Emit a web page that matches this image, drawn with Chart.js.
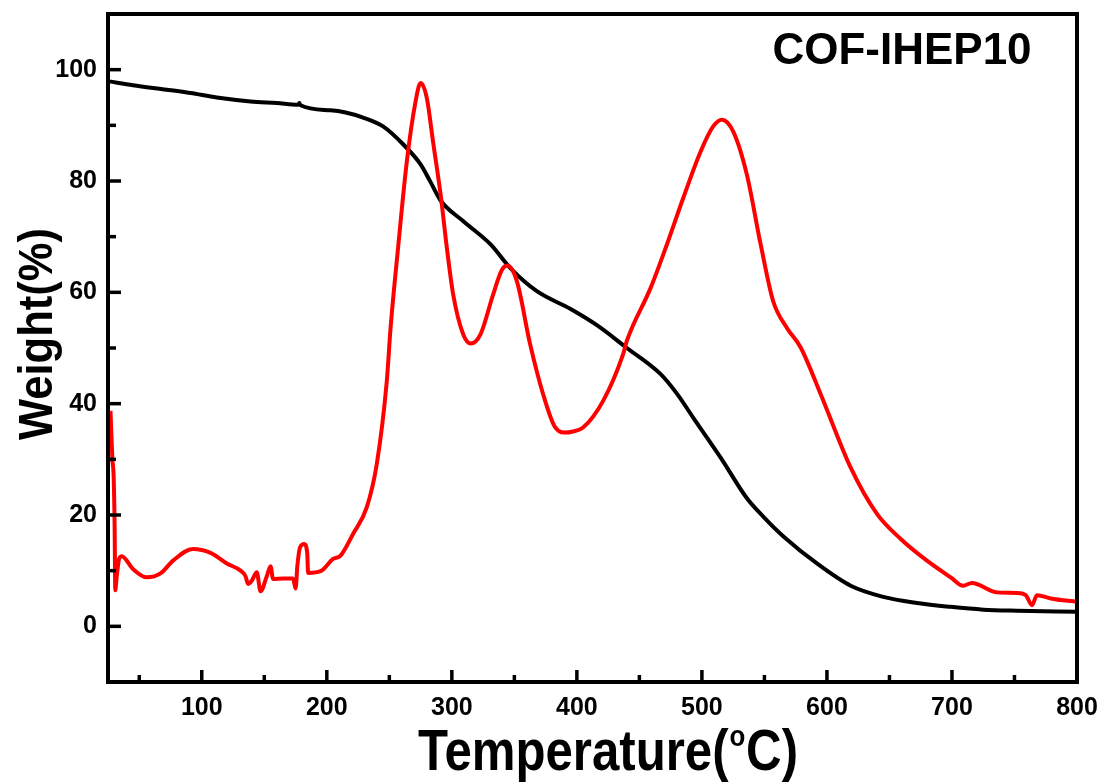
<!DOCTYPE html>
<html lang="en">
<head>
    <meta charset="UTF-8">
    <title>COF-IHEP10 TGA</title>
    <script src="https://cdn.jsdelivr.net/npm/chart.js@4.4.0/dist/chart.umd.min.js"></script>
    <style>
        html, body { margin: 0; padding: 0; background: #fff; }
        #wrap { width: 1103px; height: 783px; }
    </style>
</head>
<body>
    <div id="wrap"><canvas id="tga"></canvas></div>
<script>
    // TGA weight curve (black)
    const tgaTemp = [26, 45, 72, 91, 112, 139, 160, 177, 178, 179, 203, 215, 229, 245, 261, 275, 283, 291, 309, 331, 347,
        368, 395, 416, 440, 467, 480, 493, 515, 536, 550, 565, 592, 619, 645, 672, 699, 725, 752, 800];
    const tgaWeight = [97.9, 97.2, 96.4, 95.8, 95.0, 94.3, 94.0, 93.7, 94.0, 93.6, 92.7, 92.3, 91.4, 89.8, 86.6, 83.0, 79.8, 76.5, 72.8, 68.6, 64.3,
        60.2, 57.0, 54.1, 50.0, 45.3, 41.8, 37.5, 30.3, 23.0, 19.5, 16.2, 11.3, 7.3, 5.3, 4.2, 3.5, 3.0, 2.8, 2.6];

    // DTG curve (red), same y scale
    const dtgTemp = [27, 28.5, 29.5, 30.3, 30.8, 32, 34, 36, 45, 56, 67, 77, 93, 107, 120, 131, 135, 137, 140, 144,
        147, 152, 155, 157, 165, 173, 175, 176.5, 178.6, 182, 184.4, 185, 195, 205, 211, 221, 232, 240, 248, 251,
        257, 264, 271, 275, 280, 285, 291, 296, 301, 309, 315, 323, 333, 340, 344.5, 352, 362.6, 373, 382, 390,
        397, 405, 421, 437, 440, 459, 472, 485, 499, 509, 516, 525, 536, 547, 557, 568, 579, 595, 619, 640,
        659, 680, 699, 709, 716, 736, 752, 759, 764, 768, 779, 800];
    const dtgValue = [38.7, 30, 27, 18, 6.5, 9, 12.2, 12.6, 10.3, 8.8, 9.5, 11.8, 13.9, 13.2, 11.3, 10.0, 9.0, 7.6, 8.2, 9.7,
        6.3, 9.0, 10.8, 8.5, 8.6, 8.6, 6.8, 11, 14.2, 14.8, 13.0, 9.6, 9.9, 12.1, 12.7, 16.6, 21.4, 29.2, 44.1, 53.6,
        68, 83.5, 94.3, 97.6, 94.9, 87, 77.6, 68, 59.7, 52.5, 50.8, 52.5, 59.6, 64, 64.8, 62, 50.7, 41.7, 36, 34.8,
        35, 35.7, 40.5, 48.9, 51.3, 60.8, 68.6, 76.9, 85.3, 89.8, 91.0, 88.9, 81.1, 68.6, 58.4, 53.6, 50.1, 41.7, 28.5, 20.2,
        15.7, 11.8, 8.8, 7.3, 7.8, 6.1, 6.0, 5.6, 3.8, 5.6, 5.0, 4.4];

    const xTicks = [100, 200, 300, 400, 500, 600, 700, 800];
    const xMinor = [50, 150, 250, 350, 450, 550, 650, 750];
    const yTicks = [0, 20, 40, 60, 80, 100];
    const yMinor = [-10, 10, 30, 50, 70, 90];

    const sampleName = 'COF-IHEP10';
    const yTitle = 'Weight(%)';
    const xTitle = ['Temperature(', 'o', 'C)'];   // middle part is the raised degree "o"

    function pts(xs, ys) {
        return xs.map((x, i) => ({ x: x, y: ys[i] }));
    }

    const titleFont = '"Liberation Sans", Arial, sans-serif';

    // frame box, inward ticks, axis titles (condensed like the original) and the sample label
    const framePlugin = {
        id: 'frame',
        afterDraw(chart) {
            const ctx = chart.ctx;
            const a = chart.chartArea;
            const xs = chart.scales.x, ys = chart.scales.y;
            ctx.save();
            ctx.strokeStyle = '#000';
            ctx.lineWidth = 3.5;
            xTicks.forEach(v => {
                const p = xs.getPixelForValue(v);
                ctx.beginPath(); ctx.moveTo(p, a.bottom); ctx.lineTo(p, a.bottom - 12); ctx.stroke();
            });
            xMinor.forEach(v => {
                const p = xs.getPixelForValue(v);
                ctx.beginPath(); ctx.moveTo(p, a.bottom); ctx.lineTo(p, a.bottom - 7); ctx.stroke();
            });
            yTicks.forEach(v => {
                const p = ys.getPixelForValue(v);
                ctx.beginPath(); ctx.moveTo(a.left, p); ctx.lineTo(a.left + 13, p); ctx.stroke();
            });
            yMinor.forEach(v => {
                const p = ys.getPixelForValue(v);
                ctx.beginPath(); ctx.moveTo(a.left, p); ctx.lineTo(a.left + 8, p); ctx.stroke();
            });
            ctx.lineWidth = 4;
            ctx.strokeRect(a.left, a.top, a.right - a.left, a.bottom - a.top);

            ctx.fillStyle = '#000';
            ctx.font = 'bold 44px ' + titleFont;
            ctx.textAlign = 'center';
            ctx.textBaseline = 'middle';
            ctx.fillText(sampleName, 902, 52);

            // x title: Temperature(°C) with raised small o, squeezed to the original width
            const big = 'bold 57px ' + titleFont, small = 'bold 30px ' + titleFont;
            ctx.textAlign = 'left';
            ctx.textBaseline = 'alphabetic';
            ctx.font = big;
            const w0 = ctx.measureText(xTitle[0]).width, w2 = ctx.measureText(xTitle[2]).width;
            ctx.font = small;
            const w1 = ctx.measureText(xTitle[1]).width + 2;
            const total = w0 + w1 + w2;
            const sx = 380 / total;
            ctx.save();
            ctx.translate(608 - 190, 770);
            ctx.scale(sx, 1);
            ctx.font = big;
            ctx.fillText(xTitle[0], 0, 0);
            ctx.font = small;
            ctx.fillText(xTitle[1], w0 + 1, -24);
            ctx.font = big;
            ctx.fillText(xTitle[2], w0 + w1, 0);
            ctx.restore();

            // y title, rotated
            ctx.save();
            ctx.font = 'bold 49px ' + titleFont;
            const wy = ctx.measureText(yTitle).width;
            ctx.translate(52, 334);
            ctx.rotate(-Math.PI / 2);
            ctx.scale(212 / wy, 1);
            ctx.textAlign = 'center';
            ctx.fillText(yTitle, 0, 0);
            ctx.restore();

            ctx.restore();
        }
    };

    const tickFont = { family: titleFont, size: 25, weight: 'bold' };

    const config = {
        type: 'line',
        data: {
            datasets: [{
                label: 'DTG',
                data: pts(dtgTemp, dtgValue),
                borderColor: '#ff0000',
                borderWidth: 4,
                pointRadius: 0,
                cubicInterpolationMode: 'monotone'
            }, {
                label: 'Weight',
                data: pts(tgaTemp, tgaWeight),
                borderColor: '#000000',
                borderWidth: 4,
                pointRadius: 0,
                cubicInterpolationMode: 'monotone'
            }]
        },
        options: {
            responsive: true,
            maintainAspectRatio: false,
            animation: false,
            layout: { padding: { top: 14, right: 26, left: 0, bottom: 0 } },
            plugins: { legend: { display: false }, tooltip: { enabled: false } },
            scales: {
                x: {
                    type: 'linear',
                    min: 25, max: 800,
                    afterBuildTicks: s => { s.ticks = xTicks.map(v => ({ value: v })); },
                    afterFit: s => { s.height = 101; s.paddingLeft = 0; s.paddingRight = 0; },
                    grid: { display: false, drawTicks: false },
                    border: { display: false },
                    ticks: { color: '#000', font: tickFont, padding: 11, maxRotation: 0 }
                },
                y: {
                    type: 'linear',
                    min: -10, max: 110,
                    afterBuildTicks: s => { s.ticks = yTicks.map(v => ({ value: v })); },
                    afterFit: s => { s.width = 108; s.paddingTop = 0; s.paddingBottom = 0; },
                    grid: { display: false, drawTicks: false },
                    border: { display: false },
                    ticks: { color: '#000', font: tickFont, padding: 11 }
                }
            }
        },
        plugins: [framePlugin]
    };

    const myChart = new Chart(document.getElementById('tga'), config);
</script>
</body>
</html>
